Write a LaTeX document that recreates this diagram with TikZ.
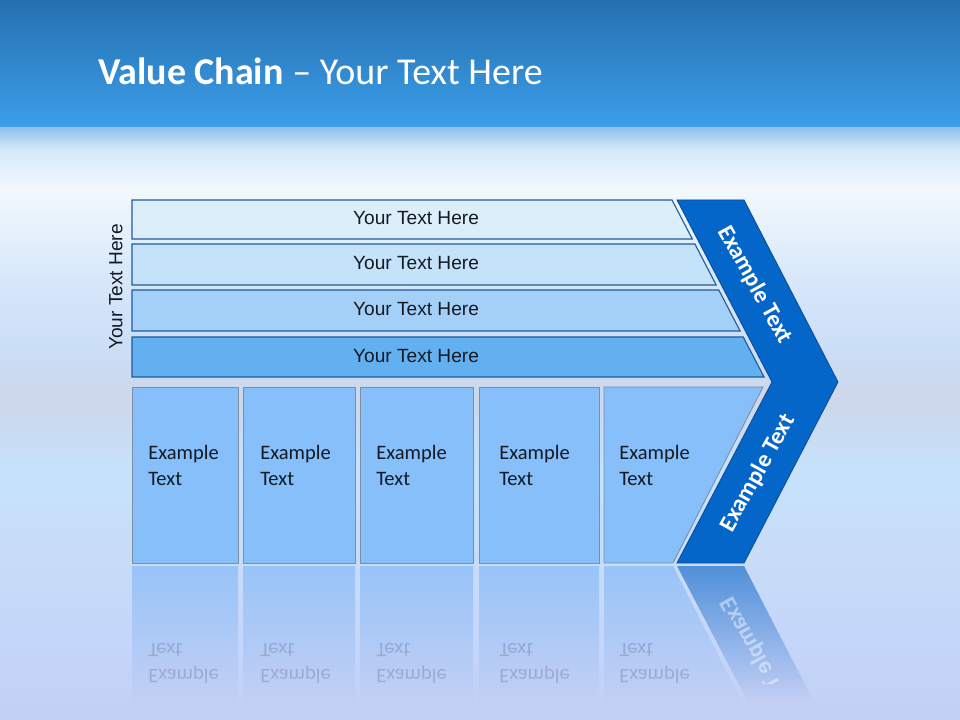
\documentclass[tikz,border=0pt]{standalone}
\usepackage{fontspec}
\setmainfont{Carlito}
\newfontfamily\rowfont{Liberation Sans}
\usepackage{tikz}
\definecolor{head-top}{HTML}{2670B0}
\definecolor{head-bot}{HTML}{3B9EE9}
\definecolor{sky-top}{HTML}{8CC0EE}
\definecolor{sky-f}{HTML}{D6E9FA}
\definecolor{sky-white}{HTML}{F2F8FD}
\definecolor{sky-e}{HTML}{DCEBFB}
\definecolor{sky-d}{HTML}{CCDFF8}
\definecolor{sky-grey}{HTML}{CCD7EA}
\definecolor{sky-c}{HTML}{C6E2FC}
\definecolor{sky-b}{HTML}{C8DCF8}
\definecolor{sky-a}{HTML}{C4D6FA}
\definecolor{sky-low}{HTML}{C2CFF4}
\definecolor{row-a}{HTML}{DDEEFB}
\definecolor{row-b}{HTML}{C4E2FA}
\definecolor{row-c}{HTML}{A4D0F7}
\definecolor{row-d}{HTML}{62B0F0}
\definecolor{row-edge}{HTML}{1F5C9E}
\definecolor{cell-blue}{HTML}{86BFFA}
\definecolor{cell-edge}{HTML}{7A8FA6}
\definecolor{chev-blue}{HTML}{0566C9}
\definecolor{chev-edge}{HTML}{0B4C96}
\definecolor{ink}{HTML}{141A24}
\pgfdeclareverticalshading{skyfade}{100bp}{color(0bp)=(sky-low); color(25bp)=(sky-low); color(31.7bp)=(sky-a); color(38.5bp)=(sky-b); color(46.1bp)=(sky-c); color(52bp)=(sky-grey); color(57bp)=(sky-d); color(63.8bp)=(sky-e); color(69.7bp)=(sky-white); color(73.1bp)=(sky-f); color(75bp)=(sky-top); color(100bp)=(sky-top)}

\begin{document}
\begin{tikzpicture}[
    x=0.025cm, y=-0.025cm,
    rowbar/.style={draw=row-edge, line width=0.8pt},
    rowtext/.style={font=\rowfont\fontsize{13.6}{15}\selectfont, text=ink, inner sep=0pt},
    cell/.style={draw=cell-edge, fill=cell-blue, line width=0.6pt},
    celltext/.style={font=\fontsize{14.6}{18.5}\selectfont, align=left, anchor=west, inner sep=0pt, text=ink},
    cellecho/.style={top color=cell-blue!70!sky-low, bottom color=sky-low},
    chev/.style={draw=chev-edge, fill=chev-blue, line width=0.6pt},
    chevtext/.style={font=\bfseries\fontsize{17}{20}\selectfont, text=white, inner sep=0pt}
]

\shade[shading=skyfade] (0,127) rectangle (960,720);
\fill[top color=head-top, bottom color=head-bot] (0,0) rectangle (960,127);
\useasboundingbox (0,0) rectangle (960,720);

\node[anchor=base west, inner sep=0pt, text=white, font=\fontsize{27}{30}\selectfont] (title) at (98,85) {\textbf{Value Chain} \textendash{} Your Text Here};

\foreach \i/\t/\b/\c in {1/200/239/row-a, 2/244/285/row-b, 3/290/331/row-c, 4/337/377/row-d} {
    \draw[rowbar, fill=\c] (132,\t) -- ({672+0.52*(\t-200)},\t) -- ({672+0.52*(\b-200)},\b) -- (132,\b) -- cycle;
    \node[rowtext] (row\i) at (416,{(\t+\b)/2-1}) {Your Text Here};
}
\node[rowtext, rotate=90] (side) at (116,287) {Your Text Here};

\foreach \i/\l/\r/\tx in {1/132/238/148, 2/243/355/260, 3/360/473/376, 4/479/599/499} {
    \shade[cellecho] (\l,566) rectangle (\r,702);
    \node[celltext, yscale=-1, text opacity=0.18] (echo\i) at (\tx,664) {Example\\Text};
    \draw[cell] (\l,387) rectangle (\r,563);
    \node[celltext] (cell\i) at (\tx,465) {Example\\Text};
}
\shade[cellecho] (604,566) -- (673,566) -- (742,702) -- (604,702) -- cycle;
\node[celltext, yscale=-1, text opacity=0.18] (echo5) at (619,664) {Example\\Text};
\draw[cell] (604,387) -- (763,387) -- (673,563) -- (604,563) -- cycle;
\node[celltext] (cell5) at (619,465) {Example\\Text};

\shade[top color=chev-blue!60!sky-low, bottom color=sky-low] (677,566) -- (744,566) -- (814,702) -- (748,702) -- cycle;
\begin{scope}
    \clip (677,566) -- (744,566) -- (804,683) -- (738,683) -- cycle;
    \node[chevtext, text opacity=0.45, yscale=-1, rotate=61] (chevecho) at (758,656) {Example Text};
\end{scope}

\draw[chev] (677,200) -- (744,200) -- (838,382) -- (744,563) -- (677,563) -- (772,382) -- cycle;
\node[chevtext, rotate=-61] (chevup) at (755,285) {Example Text};
\node[chevtext, rotate=61] (chevdown) at (758,473) {Example Text};

\end{tikzpicture}
\end{document}
